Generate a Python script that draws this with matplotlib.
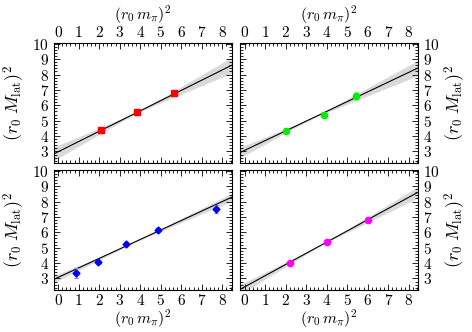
import numpy as np
import matplotlib
matplotlib.use("Agg")
import matplotlib.pyplot as plt
from matplotlib.ticker import MultipleLocator

plt.rcParams['font.family'] = 'serif'
plt.rcParams['font.serif'] = ['cmr10']
plt.rcParams['mathtext.fontset'] = 'cm'
plt.rcParams['axes.formatter.use_mathtext'] = True
plt.rcParams['font.size'] = 11

# data per panel: x, y, yerr
x_red = [2.1, 3.85, 5.65]
y_red = [4.4, 5.55, 6.8]
e_red = [0.2, 0.2, 0.22]

x_green = [2.0, 3.85, 5.45]
y_green = [4.3, 5.35, 6.6]
e_green = [0.1, 0.12, 0.25]

x_blue = [0.85, 1.95, 3.3, 4.85, 7.7]
y_blue = [3.35, 4.07, 5.22, 6.15, 7.5]
e_blue = [0.3, 0.1, 0.12, 0.12, 0.27]

x_mag = [2.2, 4.0, 6.0]
y_mag = [4.0, 5.4, 6.8]
e_mag = [0.08, 0.08, 0.08]

# linear fits: intercept, slope, band half-width at centre, slope error, centre
fit_red = (2.98, 0.665, 0.06, 0.11, 3.8)
fit_green = (3.07, 0.634, 0.05, 0.096, 3.3)
fit_blue = (3.07, 0.616, 0.04, 0.055, 3.7)
fit_mag = (2.45, 0.728, 0.04, 0.08, 3.8)

panels = [
    (x_red, y_red, e_red, fit_red, '#ff0000', '#ff8080', 's'),
    (x_green, y_green, e_green, fit_green, '#00ee00', '#80ff80', 'o'),
    (x_blue, y_blue, e_blue, fit_blue, '#0000ff', '#8080ff', 'D'),
    (x_mag, y_mag, e_mag, fit_mag, '#ff00ff', '#ff80ff', 'o'),
]

fig, axes = plt.subplots(2, 2, figsize=(4.72, 3.32), dpi=100)
fig.subplots_adjust(left=0.1144, right=0.8856, top=0.8705, bottom=0.1265,
                    wspace=0.05, hspace=0.058)

xx = np.linspace(-0.2, 8.45, 200)
for i, ax in enumerate(axes.flat):
    xs, ys, es, fit, col, ecol, mk = panels[i]
    a, b, s0, sb, xc = fit
    yy = a + b * xx
    band = np.sqrt(s0**2 + (sb * (xx - xc))**2)
    ax.fill_between(xx, yy - band, yy + band, color='#d9d9d9', lw=0)
    ax.plot(xx, yy, color='black', lw=0.8)
    ms = 3.5 if mk == 'D' else 4.5
    ax.errorbar(xs, ys, yerr=es, fmt=mk, color=col, ecolor=ecol, ms=ms,
                elinewidth=0.8, capsize=1.5, capthick=0.8, zorder=3)

    ax.set_xlim(-0.2, 8.45)
    ax.set_ylim(2.25, 10.05)
    ax.xaxis.set_major_locator(MultipleLocator(1))
    ax.xaxis.set_minor_locator(MultipleLocator(0.2))
    ax.yaxis.set_major_locator(MultipleLocator(1))
    ax.yaxis.set_minor_locator(MultipleLocator(0.2))
    ax.set_yticks(range(3, 11))
    ax.tick_params(which='both', direction='in', top=True, bottom=True,
                   left=True, right=True, width=0.6, labelsize=11)
    ax.tick_params(which='major', length=4)
    ax.tick_params(which='minor', length=2)
    ax.tick_params(axis='x', pad=2)
    for sp in ax.spines.values():
        sp.set_linewidth(0.8)

    row, colm = divmod(i, 2)
    ax.set_xlabel(r'$(r_0\,m_\pi)^2$', fontsize=11.5)
    if row == 0:
        ax.tick_params(labeltop=True, labelbottom=False)
        ax.xaxis.set_label_position('top')
        ax.xaxis.set_label_coords(0.5, 1.19)
    else:
        ax.tick_params(labeltop=False, labelbottom=True)
        ax.xaxis.set_label_coords(0.5, -0.15)
    ax.set_ylabel(r'$(r_0\;M_{\rm lat})^2$', fontsize=13)
    if colm == 0:
        ax.tick_params(labelleft=True, labelright=False)
        ax.yaxis.set_label_coords(-0.15, 0.5)
    else:
        ax.tick_params(labelleft=False, labelright=True)
        ax.yaxis.set_label_position('right')
        ax.yaxis.set_label_coords(1.14, 0.5)

fig.savefig('out.png', dpi=100)
